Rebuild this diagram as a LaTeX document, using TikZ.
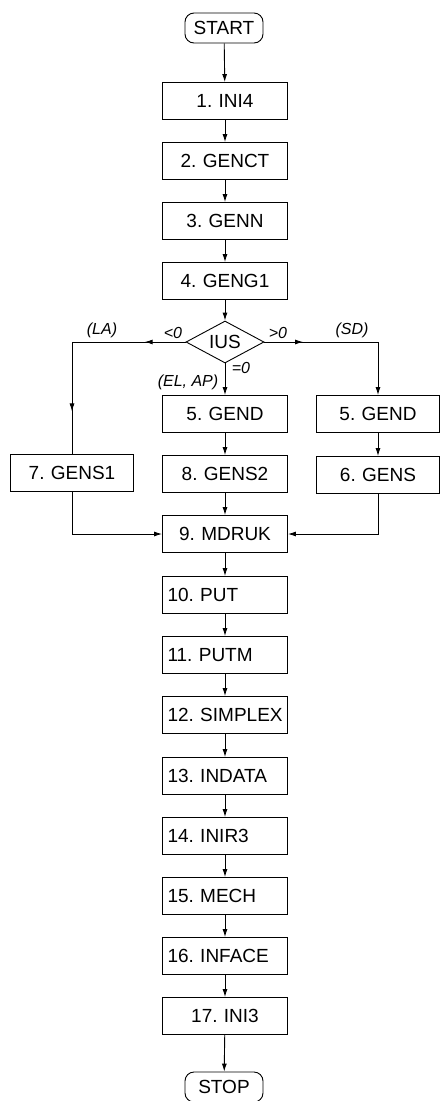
\documentclass[tikz,border=0pt]{standalone}
\usepackage{fontspec}
\setmainfont{Liberation Sans}
\usetikzlibrary{arrows.meta,shapes.geometric,decorations.markings}
\frenchspacing
\begin{document}
\begin{tikzpicture}[x=1pt,y=-1pt,
  line width=0.9pt,
  tip/.tip={Latex[length=8pt,width=5pt]},
  arr/.style={-tip},
  midarr/.style={decoration={markings,mark=at position #1 with {\arrow{tip}}},postaction=decorate},
  boxc/.style={draw,rectangle,minimum height=37pt,text width=115pt,inner xsep=5pt,inner ysep=0pt,align=center,font=\fontsize{19}{21}\selectfont},
  boxl/.style={boxc,align=left},
  sbox/.style={boxc,text width=113pt},
  term/.style={draw,rectangle,rounded corners=9pt,minimum width=78pt,minimum height=30pt,inner sep=0pt,font=\fontsize{19}{21}\selectfont},
  dec/.style={draw,diamond,aspect=1.86,minimum width=78pt,minimum height=42pt,inner sep=0pt,font=\fontsize{19}{21}\selectfont},
  lab/.style={inner sep=0pt,font=\fontsize{16}{18}\selectfont\itshape}
]
\useasboundingbox (0,0) rectangle (440,1101);
\node[term] (start) at (224,28) {START};
\node[boxc] (b1) at (225,101) {1. INI4};
\node[boxc] (b2) at (225,161) {2. GENCT};
\node[boxc] (b3) at (225,221) {3. GENN};
\node[boxc] (b4) at (225,281) {4. GENG1};
\node[dec] (ius) at (225,342) {IUS};
\node[boxc] (b5) at (225,414) {5. GEND};
\node[boxc] (b8) at (225,474) {8. GENS2};
\node[sbox] (b5r) at (378,414) {5. GEND};
\node[sbox] (b6) at (378,475) {6. GENS};
\node[sbox] (b7) at (72,473) {7. GENS1};
\node[boxc] (b9) at (225,534) {9. MDRUK};
\node[boxl] (b10) at (225,595) {10. PUT};
\node[boxl] (b11) at (225,655) {11. PUTM};
\node[boxl] (b12) at (225,715) {\mbox{12. SIMPLEX}};
\node[boxl] (b13) at (225,776) {13. INDATA};
\node[boxl] (b14) at (225,836) {14. INIR3};
\node[boxl] (b15) at (225,896) {15. MECH};
\node[boxl] (b16) at (225,956) {16. INFACE};
\node[boxc] (b17) at (225,1016) {17. INI3};
\node[term] (stop) at (224,1087) {STOP};

\coordinate (cl) at (72,342);
\coordinate (cr) at (378,342);
\coordinate (dl) at (72,534);
\coordinate (dr) at (378,534);

\node[lab] (la) at (102,330) {(LA)};
\node[lab] (lt) at (173,333) {<0};
\node[lab] (gt) at (278,333) {>0};
\node[lab] (sd) at (352,330) {(SD)};
\node[lab] (eq) at (241,368) {=0};
\node[lab] (elap) at (188,382) {(EL, AP)};

\draw[arr] (start) -- (b1);
\draw[arr] (b1) -- (b2);
\draw[arr] (b2) -- (b3);
\draw[arr] (b3) -- (b4);
\draw[arr] (b4) -- (ius);
\draw[arr] (ius.south) -- (b5);
\draw[midarr=0.36] (ius.west) -- (cl);
\draw[midarr=0.62] (cl) -- (b7.north);
\draw[midarr=0.34] (ius.east) -- (cr);
\draw[arr] (cr) -- (b5r.north);
\draw[arr] (b5r) -- (b6);
\draw[arr] (b5) -- (b8);
\draw[arr] (b8) -- (b9);
\draw[arr] (b7.south) -- (dl) -- (b9.west);
\draw[arr] (b6.south) -- (dr) -- (b9.east);
\draw[arr] (b9) -- (b10);
\draw[arr] (b10) -- (b11);
\draw[arr] (b11) -- (b12);
\draw[arr] (b12) -- (b13);
\draw[arr] (b13) -- (b14);
\draw[arr] (b14) -- (b15);
\draw[arr] (b15) -- (b16);
\draw[arr] (b16) -- (b17);
\draw[arr] (b17) -- (stop);
\end{tikzpicture}
\end{document}
